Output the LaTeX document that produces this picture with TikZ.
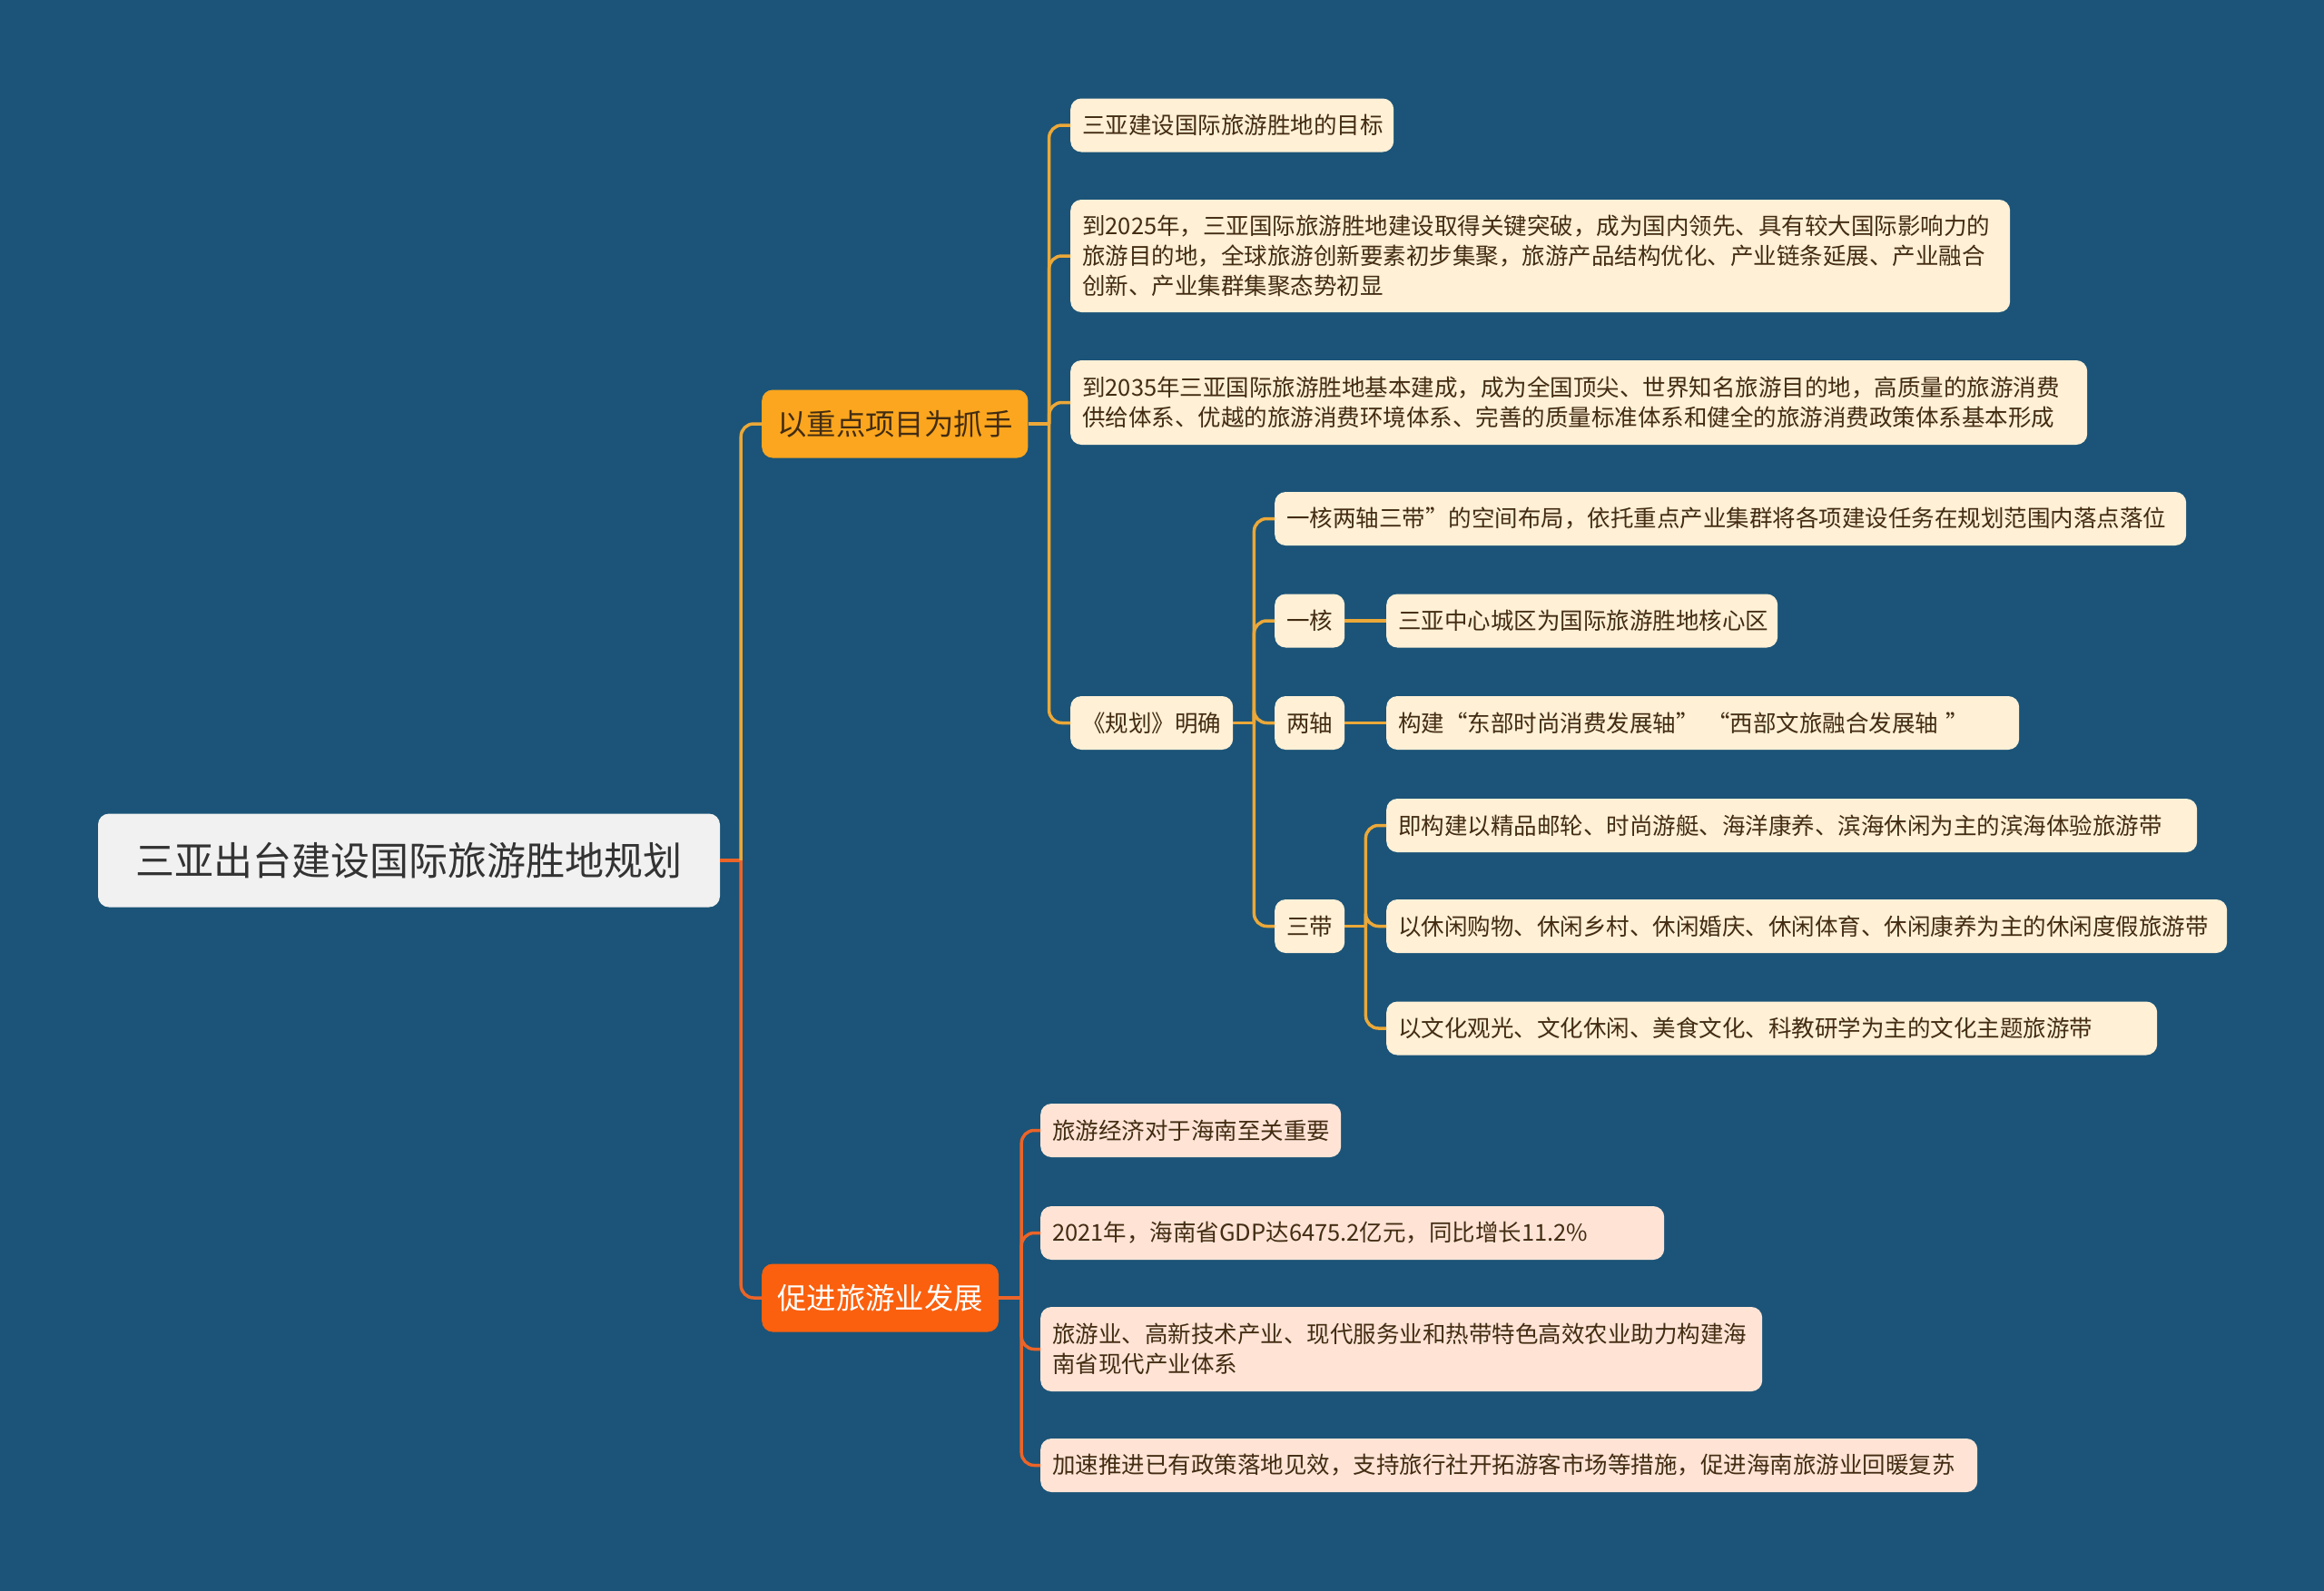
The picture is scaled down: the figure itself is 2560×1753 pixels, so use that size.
\documentclass[tikz,border=0pt]{standalone}
\usepackage{fontspec}
\setmainfont{Noto Sans CJK SC}
\usepackage{xcolor}
\definecolor{bgblue}{RGB}{27,84,120}
\definecolor{rootgray}{RGB}{241,241,241}
\definecolor{goldfill}{RGB}{251,166,30}
\definecolor{redfill}{RGB}{250,96,14}
\definecolor{goldline}{RGB}{236,168,56}
\definecolor{redline}{RGB}{236,100,40}
\definecolor{creamfill}{RGB}{255,240,214}
\definecolor{peachfill}{RGB}{255,228,214}
\definecolor{browntext}{RGB}{66,44,18}
\definecolor{darktext}{RGB}{51,51,51}

\tikzset{
  rootbox/.style={fill=rootgray, rounded corners=12pt, minimum width=685pt, minimum height=103pt,
    text=darktext, font=\fontsize{43}{52}\selectfont},
  mainbox/.style={rounded corners=12pt, anchor=west, inner xsep=17pt, inner ysep=0pt,
    minimum height=75pt, font=\fontsize{32.4}{40}\selectfont},
  item/.style={fill=creamfill, rounded corners=12pt, anchor=west, align=left, inner xsep=13pt,
    inner ysep=0pt, minimum height=59pt, text=browntext, font=\fontsize{25.5}{32.7}\selectfont},
  conn/.style={line width=3.5pt, rounded corners=14pt}
}

\begin{document}
\begin{tikzpicture}[x=1pt, y=-1pt]

% Background
\fill[bgblue] (0,0) rectangle (2560,1753);
\useasboundingbox (0,0) rectangle (2560,1753);

% Root and main branches
\node[rootbox] (root) at (450.5,948) {三亚出台建设国际旅游胜地规划};
\node[mainbox, fill=goldfill, text=browntext] (goal) at (839,467) {以重点项目为抓手};
\node[mainbox, fill=redfill, text=white] (promote) at (839,1430) {促进旅游业发展};

% First branch items
\foreach \n/\y/\h/\w/\t in {
aim/138/59/330/{三亚建设国际旅游胜地的目标},
y25/282/124/1009/{到2025年，三亚国际旅游胜地建设取得关键突破，成为国内领先、具有较大国际影响力的\\旅游目的地，全球旅游创新要素初步集聚，旅游产品结构优化、产业链条延展、产业融合\\创新、产业集群集聚态势初显},
y35/443.5/93/1094/{到2035年三亚国际旅游胜地基本建成，成为全国顶尖、世界知名旅游目的地，高质量的旅游消费\\供给体系、优越的旅游消费环境体系、完善的质量标准体系和健全的旅游消费政策体系基本形成},
plan/796.5/59/153/{《规划》明确}
} {
    \node[item, minimum height=\h, text width=\w] (\n) at (1179,\y) {\t};
}

% Plan details
\node[item, text width=978] (layout) at (1404,571.5) {一核两轴三带”的空间布局，依托重点产业集群将各项建设任务在规划范围内落点落位};
\node[item] (core) at (1404,684) {一核};
\node[item] (axes) at (1404,796.5) {两轴};
\node[item] (belts) at (1404,1020.5) {三带};
\node[item, text width=405] (corearea) at (1527,684) {三亚中心城区为国际旅游胜地核心区};
\node[item, text width=671] (axesline) at (1527,796.5) {构建“东部时尚消费发展轴” “西部文旅融合发展轴 ”};
\node[item, text width=867] (belt1) at (1527,909.5) {即构建以精品邮轮、时尚游艇、海洋康养、滨海休闲为主的滨海体验旅游带};
\node[item, text width=900] (belt2) at (1527,1020.5) {以休闲购物、休闲乡村、休闲婚庆、休闲体育、休闲康养为主的休闲度假旅游带};
\node[item, text width=823] (belt3) at (1527,1133) {以文化观光、文化休闲、美食文化、科教研学为主的文化主题旅游带};

% Second branch items
\foreach \n/\y/\h/\w/\t in {
econ/1245.5/59/305/{旅游经济对于海南至关重要},
gdp/1358.5/59/661/{2021年，海南省GDP达6475.2亿元，同比增长11.2\%},
industry/1486.5/93/769/{旅游业、高新技术产业、现代服务业和热带特色高效农业助力构建海\\南省现代产业体系},
recover/1614.5/59/1006/{加速推进已有政策落地见效，支持旅行社开拓游客市场等措施，促进海南旅游业回暖复苏}
} {
    \node[item, fill=peachfill, minimum height=\h, text width=\w] (\n) at (1146,\y) {\t};
}

% Connectors from root
\draw[redline, conn] (root.east) -- ++(23,0) coordinate (rt);
\draw[goldline, conn] (rt) |- (goal.west);
\draw[redline, conn] (rt) |- (promote.west);

% Connectors of first branch
\draw[goldline, conn] (goal.east) -- ++(23,0) coordinate (gt);
\foreach \n in {aim,y25,y35,plan}
    \draw[goldline, conn] (gt) |- (\n.west);
\draw[goldline, conn] (plan.east) -- ++(23,0) coordinate (pt);
\foreach \n in {layout,core,axes,belts}
    \draw[goldline, conn] (pt) |- (\n.west);
\draw[goldline, conn] (core.east) -- (corearea.west);
\draw[goldline, conn] (axes.east) -- (axesline.west);
\draw[goldline, conn] (belts.east) -- ++(23,0) coordinate (bt);
\foreach \n in {belt1,belt2,belt3}
    \draw[goldline, conn] (bt) |- (\n.west);

% Connectors of second branch
\draw[redline, conn] (promote.east) -- ++(25,0) coordinate (pm);
\foreach \n in {econ,gdp,industry,recover}
    \draw[redline, conn] (pm) |- (\n.west);

\end{tikzpicture}
\end{document}
